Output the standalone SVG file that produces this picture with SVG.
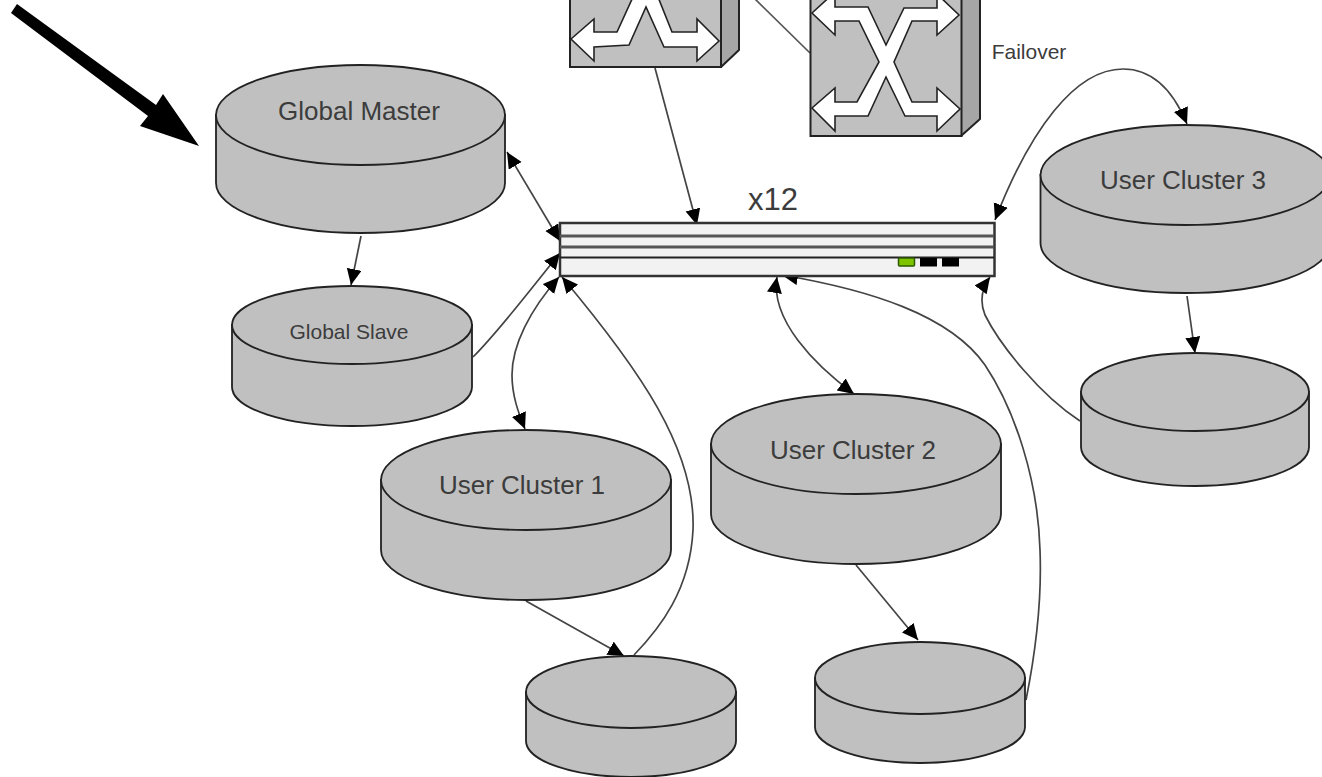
<svg xmlns="http://www.w3.org/2000/svg" width="1322" height="777" viewBox="0 0 1322 777">
<style>
.cyl{fill:#c0c0c0;stroke:#222;stroke-width:1.8}
.top{fill:#c0c0c0;stroke:#222;stroke-width:1.8}
.sw{fill:#c0c0c0;stroke:#222;stroke-width:2}
.side{fill:#a6a6a6;stroke:#222;stroke-width:2;stroke-linejoin:round}
.xa{fill:#fff;stroke:#222;stroke-width:1.6;stroke-linejoin:miter}
.t{font-family:"Liberation Sans",Arial,sans-serif;fill:#3c3c3c;text-anchor:middle}
.c{fill:none;stroke:#444;stroke-width:1.7;marker-end:url(#h)}
.b{marker-start:url(#h)}
.n{fill:none;stroke:#555;stroke-width:1.7}
.ln{stroke:#555}
</style>
<defs>
<marker id="h" markerUnits="userSpaceOnUse" markerWidth="18" markerHeight="17" refX="16" refY="7.500" orient="auto-start-reverse"><polygon points="0,0 16,7.500 0,15" fill="#000"/></marker>
</defs>
<rect width="1322" height="777" fill="#fff"/>
<g id="connectors">
<path class="n" d="M755 -1L810 53"/>
<path class="c" d="M655 68L697 225"/>
<path class="c b" d="M507 152L560 241"/>
<path class="c" d="M361 236L351 285"/>
<path class="c" d="M473 357C500 330 530 290 560 253"/>
<path class="c b" d="M559 277C530 310 512 345 512 375C512 395 518 412 525 429"/>
<path class="c" d="M634 655C660 628 690 590 693 530C696 450 640 370 562 277"/>
<path class="c" d="M526 601L624 656"/>
<path class="c" d="M856 565L918 640"/>
<path class="c" d="M1026 700C1036 650 1042 600 1040 550C1038 480 1015 410 985 365C950 315 870 290 782 275"/>
<path class="c b" d="M777 277C770 320 815 365 854 394"/>
<path class="c b" d="M995 220C1030 130 1075 69 1123 69C1155 69 1175 95 1187 124"/>
<path class="c" d="M1187 296L1195 353"/>
<path class="c" d="M1080 421C1040 395 1000 345 985 315C979 300 982 288 990 277"/>
</g>
<polygon id="pointer" points="17,4 156,105 163,94 199,146 140,126 148,116 11,13" fill="#000"/>
<g id="switch-1">
<polygon class="side" points="721,-2 739,-2 739,50 721,67"/>
<rect class="sw" x="570" y="-3" width="151" height="70"/>
<polygon class="xa" points="571,39 594,19 594,32 617,32 633,-3 658,-3 672,32 697,32 697,19 719,41 697,61 697,47 664,47 646,7 629,45 594,47 594,61"/>
</g>
<g id="switch-2">
<polygon class="side" points="961,-2 980,-2 980,119 961,136"/>
<rect class="sw" x="810.500" y="-3" width="151" height="139"/>
<polygon class="xa" points="812,13 835,-8 835,7 868,7 886,45 904,8 937,8 937,-6 959,15 937,35 937,21 912,21 894,62 912,102 937,102 937,88 960,109 937,131 937,116 905,116 886,77 868,116 835,116 835,131 812,108 835,88 835,102 857,102 879,62 859,21 835,21 835,35"/>
</g>
<text class="t" x="1029" y="59" font-size="21">Failover</text>
<g id="rack">
<rect x="560" y="223" width="434.500" height="53" fill="#f2f2f2" stroke="#333" stroke-width="2.500"/>
<line class="ln" x1="560" y1="236" x2="994" y2="236" stroke-width="3"/>
<line class="ln" x1="560" y1="247" x2="994" y2="247" stroke-width="3"/>
<line x1="560" y1="257.500" x2="994" y2="257.500" stroke="#222" stroke-width="2"/>
<rect x="898.500" y="258" width="16" height="8" rx="1" fill="#7fc400" stroke="#2c5a00" stroke-width="1.500"/>
<rect x="920" y="258" width="17" height="8.500" fill="#000"/>
<rect x="942" y="258" width="17" height="8.500" fill="#000"/>
<text class="t" x="773" y="210" font-size="31">x12</text>
</g>
<g id="global-master">
<path class="cyl" d="M216 115V183A144.500 50 0 0 0 505 183V115Z"/>
<ellipse class="top" cx="360.500" cy="115" rx="144.500" ry="50"/>
<text class="t" x="359" y="120" font-size="26">Global Master</text>
</g>
<g id="global-slave">
<path class="cyl" d="M232 325V387A120 39 0 0 0 472 387V325Z"/>
<ellipse class="top" cx="352" cy="325" rx="120" ry="39"/>
<text class="t" x="349" y="339" font-size="21">Global Slave</text>
</g>
<g id="user-cluster-1">
<path class="cyl" d="M381 480V550A145 50 0 0 0 671 550V480Z"/>
<ellipse class="top" cx="526" cy="480" rx="145" ry="50"/>
<text class="t" x="522" y="494" font-size="26">User Cluster 1</text>
</g>
<g id="user-cluster-2">
<path class="cyl" d="M711 444V514A145 50 0 0 0 1001 514V444Z"/>
<ellipse class="top" cx="856" cy="444" rx="145" ry="50"/>
<text class="t" x="853" y="459" font-size="26">User Cluster 2</text>
</g>
<g id="user-cluster-3">
<path class="cyl" d="M1040.500 175V243A145 50 0 0 0 1330.500 243V175Z"/>
<ellipse class="top" cx="1185.500" cy="175" rx="145" ry="50"/>
<text class="t" x="1183" y="189" font-size="26">User Cluster 3</text>
</g>
<g id="replica-3">
<path class="cyl" d="M1081 392V447A114 39 0 0 0 1309 447V392Z"/>
<ellipse class="top" cx="1195" cy="392" rx="114" ry="39"/>
</g>
<g id="replica-1">
<path class="cyl" d="M526 692V741A105 36 0 0 0 736 741V692Z"/>
<ellipse class="top" cx="631" cy="692" rx="105" ry="36"/>
</g>
<g id="replica-2">
<path class="cyl" d="M815 678V727A105 36 0 0 0 1025 727V678Z"/>
<ellipse class="top" cx="920" cy="678" rx="105" ry="36"/>
</g>
</svg>
